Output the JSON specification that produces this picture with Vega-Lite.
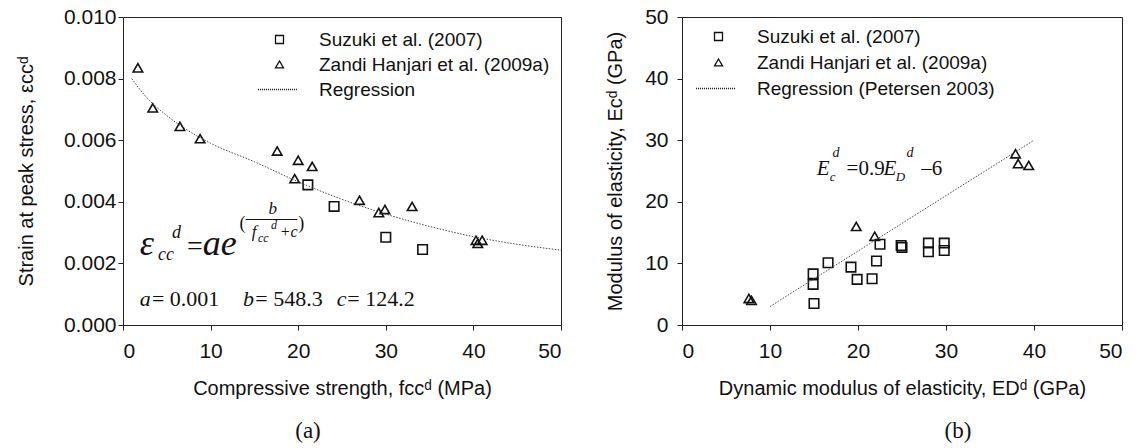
{
  "$schema": "https://vega.github.io/schema/vega-lite/v6.json",
  "background": "white",
  "padding": {"left": 15, "top": 5, "right": 1, "bottom": 0},
  "spacing": 41,
  "config": {
    "font": "Liberation Sans",
    "view": {"stroke": "#222", "strokeWidth": 1},
    "axis": {"grid": false, "domainColor": "#222", "tickColor": "#222", "labelColor": "#111", "titleColor": "#111", "labelFontSize": 21, "titleFontSize": 20, "titleFontWeight": "normal", "tickSize": 5, "labelFont": "Liberation Sans", "titleFont": "Liberation Sans"},
    "text": {"font": "Liberation Serif", "color": "#111"}
  },
  "resolve": {"scale": {"shape": "independent"}, "legend": {"shape": "independent"}},
  "hconcat": [
    {
      "width": 438,
      "height": 308,
      "title": {"text": "(a)", "orient": "bottom", "font": "Liberation Serif", "fontSize": 23, "fontWeight": "normal", "color": "#111", "dx": -34, "offset": 22},
      "layer": [
        {
          "data": {"values": [
            {"x": 21.1, "y": 0.00455, "series": "Suzuki et al. (2007)"},
            {"x": 24.1, "y": 0.00385, "series": "Suzuki et al. (2007)"},
            {"x": 30.0, "y": 0.00285, "series": "Suzuki et al. (2007)"},
            {"x": 34.2, "y": 0.00245, "series": "Suzuki et al. (2007)"},
            {"x": 1.7, "y": 0.00835, "series": "Zandi Hanjari et al. (2009a)"},
            {"x": 3.4, "y": 0.00705, "series": "Zandi Hanjari et al. (2009a)"},
            {"x": 6.5, "y": 0.00645, "series": "Zandi Hanjari et al. (2009a)"},
            {"x": 8.8, "y": 0.00605, "series": "Zandi Hanjari et al. (2009a)"},
            {"x": 17.6, "y": 0.00565, "series": "Zandi Hanjari et al. (2009a)"},
            {"x": 20.0, "y": 0.00535, "series": "Zandi Hanjari et al. (2009a)"},
            {"x": 19.6, "y": 0.00475, "series": "Zandi Hanjari et al. (2009a)"},
            {"x": 21.6, "y": 0.00515, "series": "Zandi Hanjari et al. (2009a)"},
            {"x": 27.0, "y": 0.00405, "series": "Zandi Hanjari et al. (2009a)"},
            {"x": 29.2, "y": 0.00365, "series": "Zandi Hanjari et al. (2009a)"},
            {"x": 29.9, "y": 0.00375, "series": "Zandi Hanjari et al. (2009a)"},
            {"x": 33.0, "y": 0.00385, "series": "Zandi Hanjari et al. (2009a)"},
            {"x": 40.3, "y": 0.00275, "series": "Zandi Hanjari et al. (2009a)"},
            {"x": 40.5, "y": 0.00265, "series": "Zandi Hanjari et al. (2009a)"},
            {"x": 41.0, "y": 0.00275, "series": "Zandi Hanjari et al. (2009a)"}
          ]},
          "mark": {"type": "point", "filled": false, "strokeWidth": 1.6, "size": 90, "color": "#111", "opacity": 1},
          "encoding": {
            "x": {"field": "x", "type": "quantitative", "scale": {"domain": [0, 50], "nice": false}, "axis": {"values": [0, 10, 20, 30, 40, 50], "title": "Compressive strength, fccᵈ (MPa)", "labelPadding": 10, "titlePadding": 17}},
            "y": {"field": "y", "type": "quantitative", "scale": {"domain": [0, 0.01], "nice": false}, "axis": {"values": [0, 0.002, 0.004, 0.006, 0.008, 0.01], "format": ".3f", "title": "Strain at peak stress, εccᵈ", "labelPadding": 2, "titlePadding": 27}},
            "shape": {"field": "series", "type": "nominal",
              "scale": {"domain": ["Suzuki et al. (2007)", "Zandi Hanjari et al. (2009a)", "Regression"],
                        "range": ["square", "triangle-up", "M-5.4,0h0.25m0.25,0h0.25m0.25,0h0.25m0.25,0h0.25m0.25,0h0.25m0.25,0h0.25m0.25,0h0.25m0.25,0h0.25m0.25,0h0.25m0.25,0h0.25m0.25,0h0.25m0.25,0h0.25m0.25,0h0.25m0.25,0h0.25m0.25,0h0.25m0.25,0h0.25m0.25,0h0.25m0.25,0h0.25m0.25,0h0.25m0.25,0h0.25m0.25,0"]},
              "legend": {"title": null, "orient": "none", "legendX": 147, "legendY": 13, "symbolSize": 64, "symbolStrokeWidth": 1.3, "symbolStrokeColor": "#111", "symbolFillColor": "transparent", "labelFontSize": 19, "labelFont": "Liberation Sans", "labelColor": "#111", "labelOffset": 30, "rowPadding": 5, "padding": 0, "labelLimit": 400}}
          }
        },
        {
          "data": {"values": [
            {"x": 1, "y": 0.0080}, {"x": 2.5, "y": 0.00745}, {"x": 5, "y": 0.0068}, {"x": 7.5, "y": 0.0063},
            {"x": 10, "y": 0.0059}, {"x": 15, "y": 0.0053}, {"x": 20, "y": 0.00465}, {"x": 25, "y": 0.00408},
            {"x": 30, "y": 0.0036}, {"x": 35, "y": 0.0032}, {"x": 40, "y": 0.00287}, {"x": 45, "y": 0.00262}, {"x": 50, "y": 0.00243}
          ]},
          "mark": {"type": "line", "strokeDash": [1.5, 1.5], "strokeWidth": 1, "color": "#444", "interpolate": "monotone"},
          "encoding": {"x": {"field": "x", "type": "quantitative"}, "y": {"field": "y", "type": "quantitative"}}
        },
        {"data": {"values": [{}]}, "mark": {"type": "text", "text": "ε", "fontStyle": "italic", "fontSize": 36, "align": "left", "baseline": "alphabetic"}, "encoding": {"x": {"datum": 1.9}, "y": {"datum": 0.00226}}},
        {"data": {"values": [{}]}, "mark": {"type": "text", "text": "cc", "fontStyle": "italic", "fontSize": 18, "align": "left", "baseline": "alphabetic"}, "encoding": {"x": {"datum": 4.0}, "y": {"datum": 0.00211}}},
        {"data": {"values": [{}]}, "mark": {"type": "text", "text": "d", "fontStyle": "italic", "fontSize": 18, "align": "left", "baseline": "alphabetic"}, "encoding": {"x": {"datum": 5.6}, "y": {"datum": 0.00284}}},
        {"data": {"values": [{}]}, "mark": {"type": "text", "text": "=", "fontSize": 28, "align": "left", "baseline": "alphabetic"}, "encoding": {"x": {"datum": 7.3}, "y": {"datum": 0.00226}}},
        {"data": {"values": [{}]}, "mark": {"type": "text", "text": "ae", "fontStyle": "italic", "fontSize": 36, "align": "left", "baseline": "alphabetic"}, "encoding": {"x": {"datum": 9.1}, "y": {"datum": 0.00226}}},
        {"data": {"values": [{}]}, "mark": {"type": "text", "text": "(", "fontSize": 18, "align": "left", "baseline": "alphabetic"}, "encoding": {"x": {"datum": 13.3}, "y": {"datum": 0.00312}}},
        {"data": {"values": [{}]}, "mark": {"type": "text", "text": "b", "fontStyle": "italic", "fontSize": 17, "align": "left", "baseline": "alphabetic"}, "encoding": {"x": {"datum": 16.6}, "y": {"datum": 0.0036}}},
        {"data": {"values": [{}]}, "mark": {"type": "rule", "color": "#111", "strokeWidth": 1}, "encoding": {"x": {"datum": 14.0}, "x2": {"datum": 19.9}, "y": {"datum": 0.003425}}},
        {"data": {"values": [{}]}, "mark": {"type": "text", "text": "f", "fontStyle": "italic", "fontSize": 17, "align": "left", "baseline": "alphabetic"}, "encoding": {"x": {"datum": 14.7}, "y": {"datum": 0.00286}}},
        {"data": {"values": [{}]}, "mark": {"type": "text", "text": "cc", "fontStyle": "italic", "fontSize": 12, "align": "left", "baseline": "alphabetic"}, "encoding": {"x": {"datum": 15.4}, "y": {"datum": 0.0027}}},
        {"data": {"values": [{}]}, "mark": {"type": "text", "text": "d", "fontStyle": "italic", "fontSize": 12, "align": "left", "baseline": "alphabetic"}, "encoding": {"x": {"datum": 16.9}, "y": {"datum": 0.00313}}},
        {"data": {"values": [{}]}, "mark": {"type": "text", "text": "+c", "fontStyle": "italic", "fontSize": 16, "align": "left", "baseline": "alphabetic"}, "encoding": {"x": {"datum": 17.9}, "y": {"datum": 0.00286}}},
        {"data": {"values": [{}]}, "mark": {"type": "text", "text": ")", "fontSize": 18, "align": "left", "baseline": "alphabetic"}, "encoding": {"x": {"datum": 20.0}, "y": {"datum": 0.00312}}},
        {"data": {"values": [{}]}, "mark": {"type": "text", "text": "a", "fontStyle": "italic", "fontSize": 22, "align": "left", "baseline": "alphabetic"}, "encoding": {"x": {"datum": 1.9}, "y": {"datum": 0.00063}}},
        {"data": {"values": [{}]}, "mark": {"type": "text", "text": "= 0.001", "fontSize": 22, "align": "left", "baseline": "alphabetic"}, "encoding": {"x": {"datum": 3.3}, "y": {"datum": 0.00063}}},
        {"data": {"values": [{}]}, "mark": {"type": "text", "text": "b", "fontStyle": "italic", "fontSize": 22, "align": "left", "baseline": "alphabetic"}, "encoding": {"x": {"datum": 13.7}, "y": {"datum": 0.00063}}},
        {"data": {"values": [{}]}, "mark": {"type": "text", "text": "= 548.3", "fontSize": 22, "align": "left", "baseline": "alphabetic"}, "encoding": {"x": {"datum": 15.1}, "y": {"datum": 0.00063}}},
        {"data": {"values": [{}]}, "mark": {"type": "text", "text": "c", "fontStyle": "italic", "fontSize": 22, "align": "left", "baseline": "alphabetic"}, "encoding": {"x": {"datum": 24.4}, "y": {"datum": 0.00063}}},
        {"data": {"values": [{}]}, "mark": {"type": "text", "text": "= 124.2", "fontSize": 22, "align": "left", "baseline": "alphabetic"}, "encoding": {"x": {"datum": 25.6}, "y": {"datum": 0.00063}}}
      ]
    },
    {
      "width": 440,
      "height": 308,
      "title": {"text": "(b)", "orient": "bottom", "font": "Liberation Serif", "fontSize": 23, "fontWeight": "normal", "color": "#111", "dx": 56, "offset": 22},
      "layer": [
        {
          "data": {"values": [
            {"x": 14.9, "y": 8.3, "series": "Suzuki et al. (2007)"},
            {"x": 14.9, "y": 6.6, "series": "Suzuki et al. (2007)"},
            {"x": 15.0, "y": 3.5, "series": "Suzuki et al. (2007)"},
            {"x": 16.6, "y": 10.1, "series": "Suzuki et al. (2007)"},
            {"x": 19.2, "y": 9.4, "series": "Suzuki et al. (2007)"},
            {"x": 19.9, "y": 7.4, "series": "Suzuki et al. (2007)"},
            {"x": 21.6, "y": 7.5, "series": "Suzuki et al. (2007)"},
            {"x": 22.1, "y": 10.4, "series": "Suzuki et al. (2007)"},
            {"x": 22.5, "y": 13.1, "series": "Suzuki et al. (2007)"},
            {"x": 24.9, "y": 12.9, "series": "Suzuki et al. (2007)"},
            {"x": 25.0, "y": 12.6, "series": "Suzuki et al. (2007)"},
            {"x": 28.0, "y": 13.3, "series": "Suzuki et al. (2007)"},
            {"x": 28.0, "y": 11.9, "series": "Suzuki et al. (2007)"},
            {"x": 29.8, "y": 13.3, "series": "Suzuki et al. (2007)"},
            {"x": 29.8, "y": 12.1, "series": "Suzuki et al. (2007)"},
            {"x": 7.6, "y": 4.3, "series": "Zandi Hanjari et al. (2009a)"},
            {"x": 7.9, "y": 4.0, "series": "Zandi Hanjari et al. (2009a)"},
            {"x": 19.8, "y": 16.0, "series": "Zandi Hanjari et al. (2009a)"},
            {"x": 21.9, "y": 14.4, "series": "Zandi Hanjari et al. (2009a)"},
            {"x": 37.9, "y": 27.8, "series": "Zandi Hanjari et al. (2009a)"},
            {"x": 38.2, "y": 26.2, "series": "Zandi Hanjari et al. (2009a)"},
            {"x": 39.4, "y": 25.9, "series": "Zandi Hanjari et al. (2009a)"}
          ]},
          "mark": {"type": "point", "filled": false, "strokeWidth": 1.6, "size": 90, "color": "#111", "opacity": 1},
          "encoding": {
            "x": {"field": "x", "type": "quantitative", "scale": {"domain": [0, 50], "nice": false}, "axis": {"values": [0, 10, 20, 30, 40, 50], "title": "Dynamic modulus of elasticity, EDᵈ (GPa)", "labelPadding": 10, "titlePadding": 17}},
            "y": {"field": "y", "type": "quantitative", "scale": {"domain": [0, 50], "nice": false}, "axis": {"values": [0, 10, 20, 30, 40, 50], "title": "Modulus of elasticity, Ecᵈ (GPa)", "labelPadding": 9, "titlePadding": 19}},
            "shape": {"field": "series", "type": "nominal",
              "scale": {"domain": ["Suzuki et al. (2007)", "Zandi Hanjari et al. (2009a)", "Regression (Petersen 2003)"],
                        "range": ["square", "triangle-up", "M-5.6,0h0.25m0.25,0h0.25m0.25,0h0.25m0.25,0h0.25m0.25,0h0.25m0.25,0h0.25m0.25,0h0.25m0.25,0h0.25m0.25,0h0.25m0.25,0h0.25m0.25,0h0.25m0.25,0h0.25m0.25,0h0.25m0.25,0h0.25m0.25,0h0.25m0.25,0h0.25m0.25,0h0.25m0.25,0h0.25m0.25,0h0.25m0.25,0h0.25m0.25,0"]},
              "legend": {"title": null, "orient": "none", "legendX": 27, "legendY": 10, "symbolSize": 64, "symbolStrokeWidth": 1.3, "symbolStrokeColor": "#111", "symbolFillColor": "transparent", "labelFontSize": 19, "labelFont": "Liberation Sans", "labelColor": "#111", "labelOffset": 29, "rowPadding": 6, "padding": 0, "labelLimit": 400}}
          }
        },
        {
          "data": {"values": [{"x": 10, "y": 3}, {"x": 40, "y": 30}]},
          "mark": {"type": "line", "strokeDash": [1.5, 1.5], "strokeWidth": 1, "color": "#444"},
          "encoding": {"x": {"field": "x", "type": "quantitative"}, "y": {"field": "y", "type": "quantitative"}}
        },
        {"data": {"values": [{}]}, "mark": {"type": "text", "text": "E", "fontStyle": "italic", "fontSize": 21, "align": "left", "baseline": "alphabetic"}, "encoding": {"x": {"datum": 15.3}, "y": {"datum": 24.3}}},
        {"data": {"values": [{}]}, "mark": {"type": "text", "text": "c", "fontStyle": "italic", "fontSize": 13, "align": "left", "baseline": "alphabetic"}, "encoding": {"x": {"datum": 16.8}, "y": {"datum": 23.4}}},
        {"data": {"values": [{}]}, "mark": {"type": "text", "text": "d", "fontStyle": "italic", "fontSize": 14, "align": "left", "baseline": "alphabetic"}, "encoding": {"x": {"datum": 17.1}, "y": {"datum": 27.2}}},
        {"data": {"values": [{}]}, "mark": {"type": "text", "text": "=0.9", "fontSize": 21, "align": "left", "baseline": "alphabetic"}, "encoding": {"x": {"datum": 18.7}, "y": {"datum": 24.3}}},
        {"data": {"values": [{}]}, "mark": {"type": "text", "text": "E", "fontStyle": "italic", "fontSize": 21, "align": "left", "baseline": "alphabetic"}, "encoding": {"x": {"datum": 22.9}, "y": {"datum": 24.3}}},
        {"data": {"values": [{}]}, "mark": {"type": "text", "text": "D", "fontStyle": "italic", "fontSize": 13, "align": "left", "baseline": "alphabetic"}, "encoding": {"x": {"datum": 24.3}, "y": {"datum": 23.4}}},
        {"data": {"values": [{}]}, "mark": {"type": "text", "text": "d", "fontStyle": "italic", "fontSize": 14, "align": "left", "baseline": "alphabetic"}, "encoding": {"x": {"datum": 25.5}, "y": {"datum": 27.2}}},
        {"data": {"values": [{}]}, "mark": {"type": "text", "text": "–6", "fontSize": 21, "align": "left", "baseline": "alphabetic"}, "encoding": {"x": {"datum": 27.2}, "y": {"datum": 24.3}}}
      ]
    }
  ]
}
